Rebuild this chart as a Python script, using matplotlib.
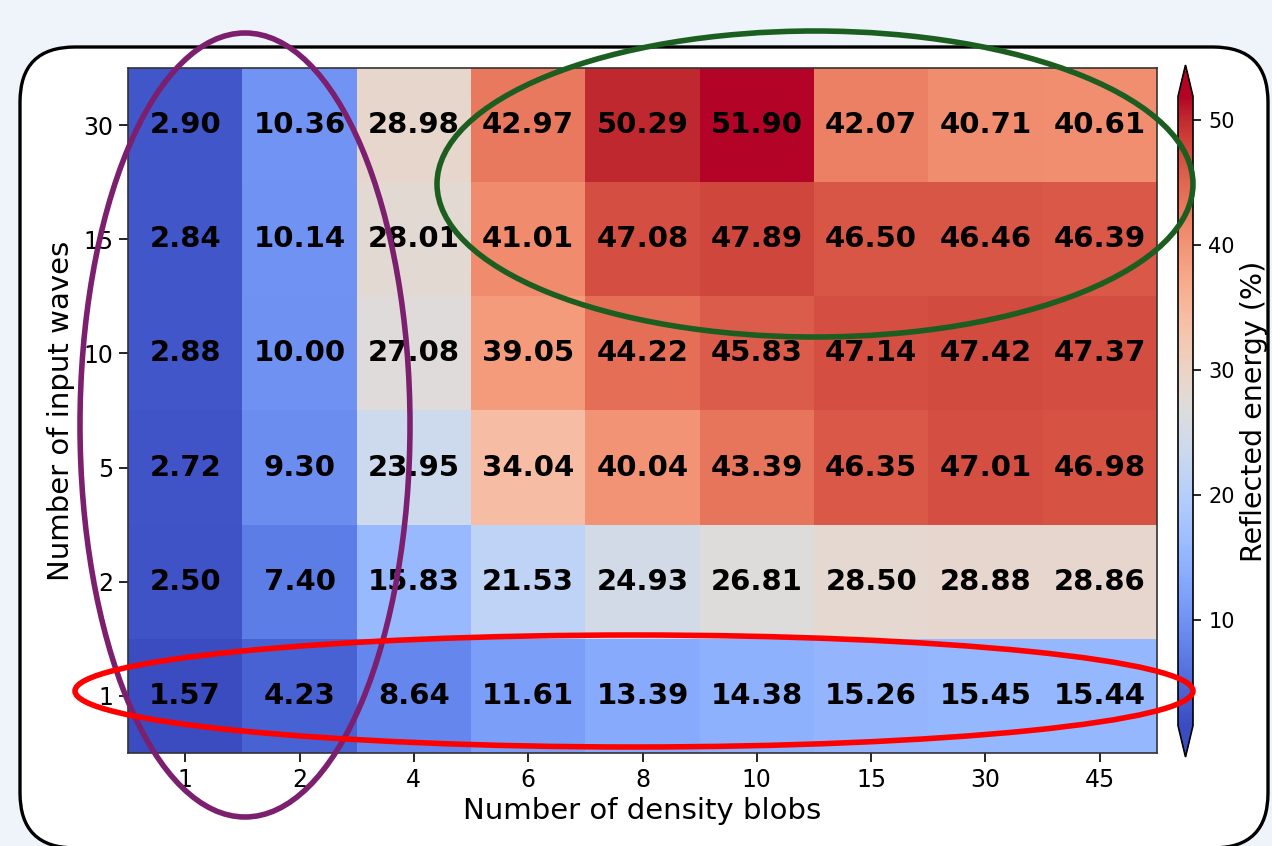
import numpy as np
import matplotlib
matplotlib.use("Agg")
import matplotlib.pyplot as plt
from matplotlib.patches import Ellipse, FancyBboxPatch

blobs = ["1", "2", "4", "6", "8", "10", "15", "30", "45"]
waves = ["1", "2", "5", "10", "15", "30"]

# reflected energy (%), one row per number of input waves (bottom to top)
row_1 = [1.57, 4.23, 8.64, 11.61, 13.39, 14.38, 15.26, 15.45, 15.44]
row_2 = [2.50, 7.40, 15.83, 21.53, 24.93, 26.81, 28.50, 28.88, 28.86]
row_5 = [2.72, 9.30, 23.95, 34.04, 40.04, 43.39, 46.35, 47.01, 46.98]
row_10 = [2.88, 10.00, 27.08, 39.05, 44.22, 45.83, 47.14, 47.42, 47.37]
row_15 = [2.84, 10.14, 28.01, 41.01, 47.08, 47.89, 46.50, 46.46, 46.39]
row_30 = [2.90, 10.36, 28.98, 42.97, 50.29, 51.90, 42.07, 40.71, 40.61]

energy = np.array([row_1, row_2, row_5, row_10, row_15, row_30])

W, H = 1272, 846
fig = plt.figure(figsize=(W / 100, H / 100), dpi=100)
fig.patch.set_facecolor("#eef4f9")

def frac(x0, y0, x1, y1):
    return [x0 / W, 1 - y1 / H, (x1 - x0) / W, (y1 - y0) / H]

# rounded white panel behind the chart
bg = fig.add_axes([0, 0, 1, 1])
bg.set_xlim(0, W)
bg.set_ylim(H, 0)
bg.axis("off")
bg.add_patch(FancyBboxPatch((20, 47), 1248, 801,
                            boxstyle="round,pad=0,rounding_size=55",
                            facecolor="white", edgecolor="black", lw=2.4,
                            clip_on=False))

ax = fig.add_axes(frac(128, 68, 1157, 753))
im = ax.imshow(energy, cmap="coolwarm", vmin=energy.min(), vmax=energy.max(),
               aspect="auto", origin="lower")
for i in range(len(waves)):
    for j in range(len(blobs)):
        ax.text(j, i, f"{energy[i, j]:.2f}", ha="center", va="center",
                fontsize=21, fontweight="bold", color="black")

ax.set_xticks(range(len(blobs)))
ax.set_xticklabels(blobs)
ax.set_yticks(range(len(waves)))
ax.set_yticklabels(waves)
ax.tick_params(labelsize=17, length=6.5, width=1.2, pad=4)
ax.set_xlabel("Number of density blobs", fontsize=21, labelpad=4)
ax.set_ylabel("Number of input waves", fontsize=21, labelpad=6)
for s in ax.spines.values():
    s.set_color("#333333")
    s.set_linewidth(1.2)

cax = fig.add_axes(frac(1178, 65, 1193, 757))
cb = fig.colorbar(im, cax=cax, extend="both")
cb.set_ticks([10, 20, 30, 40, 50])
cb.ax.tick_params(labelsize=15, length=6, width=1.2, pad=5)
cb.set_label("Reflected energy (%)", fontsize=20.5, labelpad=4)
cb.outline.set_linewidth(1.2)

# highlight ellipses on top
fg = fig.add_axes([0, 0, 1, 1])
fg.set_xlim(0, W)
fg.set_ylim(H, 0)
fg.axis("off")
fg.patch.set_alpha(0)
fg.add_patch(Ellipse((245, 425), 330, 784, fill=False, edgecolor="#7b1f6e",
                     lw=4, clip_on=False))
fg.add_patch(Ellipse((815, 184), 756, 306, fill=False, edgecolor="#1b5e20",
                     lw=4, clip_on=False))
fg.add_patch(Ellipse((634, 691), 1118, 112, fill=False, edgecolor="#ff0000",
                     lw=4, clip_on=False))

fig.savefig("out.png", dpi=100, facecolor=fig.get_facecolor())
